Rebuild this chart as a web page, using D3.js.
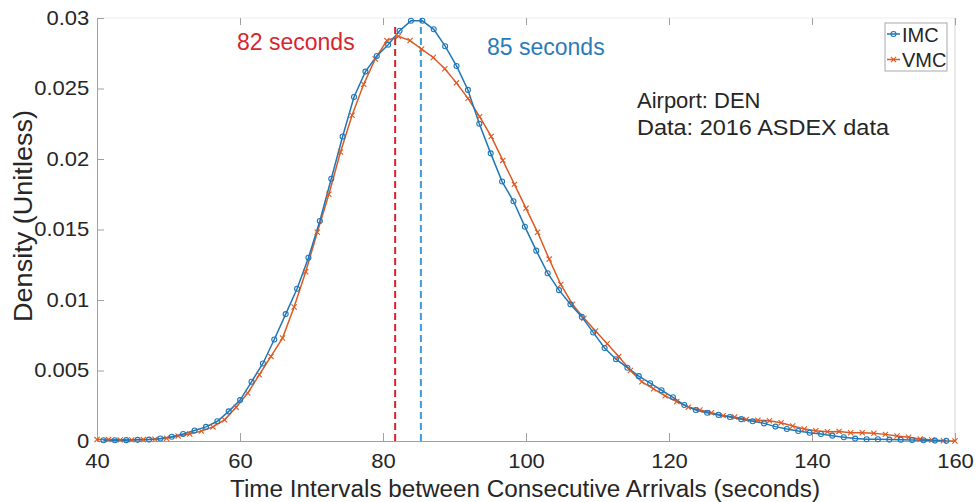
<!DOCTYPE html>
<html lang="en">
<head>
<meta charset="UTF-8">
<title>Arrival intervals density</title>
<script src="https://d3js.org/d3.v7.min.js"></script>
<style>
    html, body { margin: 0; padding: 0; background: #fff; }
    svg { display: block; }
    text { font-family: 'Liberation Sans', Arial, sans-serif; fill: #262626; }
    .axis path, .axis line { stroke: #a0a0a0; }
</style>
</head>
<body>
<svg id="canvas" width="977" height="502"></svg>
<script>
// kernel density, IMC (blue circles) - samples start at 40.9 s, every 1.593 s
let imcStart = 40.9
let imcStep = 1.593
let imcDensity = [
    0.00005, 0.00005, 0.00006, 0.00008, 0.0001, 0.00018, 0.0003, 0.0005, 0.00075, 0.001,
    0.0014, 0.0021, 0.0029, 0.0042, 0.0055, 0.0072, 0.0090, 0.0108, 0.0130, 0.0156,
    0.0186, 0.0216, 0.0244, 0.0262, 0.0273, 0.0281, 0.0291, 0.0298, 0.0298, 0.0292,
    0.0280, 0.0266, 0.0249, 0.0225, 0.0204, 0.0184, 0.0170, 0.0152, 0.0135, 0.0119,
    0.0107, 0.0097, 0.0088, 0.0077, 0.0066, 0.0058, 0.0052, 0.0046, 0.0041, 0.0036,
    0.0031, 0.00255, 0.0022, 0.0020, 0.00185, 0.0017, 0.00155, 0.0014, 0.00125, 0.00102,
    0.00085, 0.00071, 0.00059, 0.0005, 0.00038, 0.00027, 0.00017, 0.00012, 0.00012, 0.0001,
    0.00009, 0.00007, 0.00005, 0.00003, 0.00001
]

// kernel density, VMC (orange crosses) - samples from 40 to 160 s
let vmcStart = 40
let vmcStep = 120 / 74
let vmcDensity = [
    0.0001, 0.0001, 0.00008, 0.00008, 0.0001, 0.00012, 0.0002, 0.00035, 0.0005, 0.0007,
    0.001, 0.0015, 0.0024, 0.0034, 0.0047, 0.0060, 0.0073, 0.0095, 0.0120, 0.0148,
    0.0175, 0.0205, 0.0231, 0.0253, 0.0271, 0.0284, 0.0287, 0.0284, 0.0278, 0.0272,
    0.0264, 0.0254, 0.0243, 0.0230, 0.0216, 0.0199, 0.0182, 0.0165, 0.0148, 0.0129,
    0.0111, 0.0097, 0.0087, 0.0078, 0.0069, 0.0060, 0.0050, 0.0042, 0.0037, 0.0032,
    0.0028, 0.0024, 0.0022, 0.0020, 0.0018, 0.0017, 0.00152, 0.00148, 0.00144, 0.0013,
    0.00106, 0.00085, 0.00073, 0.00066, 0.00068, 0.00059, 0.00059, 0.00055, 0.00047, 0.00035,
    0.00026, 0.00014, 0.00007, 0.00002, 0.0
]

let xTicks = [40, 60, 80, 100, 120, 140, 160]
let yTicks = [0, 0.005, 0.01, 0.015, 0.02, 0.025, 0.03]
let yTickLabels = ['0', '0.005', '0.01', '0.015', '0.02', '0.025', '0.03']

let vmcMode = 81.7
let imcMode = 85.3

let blue = '#1f77b8'
let orange = '#dc5a24'

let canvas = d3.select('#canvas')

let xScale = d3.scaleLinear().domain([40, 160]).range([97, 955])
let yScale = d3.scaleLinear().domain([0, 0.03]).range([441, 18])

let imcData = imcDensity.map((d, i) => ({ t: imcStart + i * imcStep, v: d }))
let vmcData = vmcDensity.map((d, i) => ({ t: vmcStart + i * vmcStep, v: d }))

// box top + right
canvas.append('line')
    .attr('x1', xScale(40)).attr('x2', xScale(160))
    .attr('y1', yScale(0.03)).attr('y2', yScale(0.03))
    .attr('stroke', '#ececec')
canvas.append('line')
    .attr('x1', xScale(160)).attr('x2', xScale(160))
    .attr('y1', yScale(0.03)).attr('y2', yScale(0))
    .attr('stroke', '#d4d4d4')

let xAxis = canvas.append('g')
    .attr('class', 'axis')
    .attr('transform', 'translate(0,' + yScale(0) + ')')
    .call(d3.axisBottom(xScale).tickValues(xTicks).tickSizeInner(-8).tickSizeOuter(0).tickPadding(13))
let yAxis = canvas.append('g')
    .attr('class', 'axis')
    .attr('transform', 'translate(' + xScale(40) + ',0)')
    .call(d3.axisLeft(yScale).tickValues(yTicks).tickSizeInner(-7).tickSizeOuter(0).tickPadding(7)
        .tickFormat((d, i) => yTickLabels[i]))
canvas.append('g')
    .attr('class', 'axis')
    .attr('transform', 'translate(0,' + yScale(0.03) + ')')
    .call(d3.axisTop(xScale).tickValues(xTicks).tickSizeInner(-7).tickSizeOuter(0).tickFormat(''))
    .select('.domain').remove()

canvas.selectAll('.axis text')
    .style('font-size', '20px')
    .attr('fill', '#262626')
    .attr('transform', 'scale(1.1,1)')
yAxis.select('.domain').attr('stroke', '#d0d0d0')

// mode lines
canvas.append('line')
    .attr('x1', xScale(vmcMode)).attr('x2', xScale(vmcMode))
    .attr('y1', yScale(0)).attr('y2', yScale(0.0294))
    .attr('stroke', '#d9232a').attr('stroke-width', 2).attr('stroke-dasharray', '7,4')
canvas.append('line')
    .attr('x1', xScale(imcMode)).attr('x2', xScale(imcMode))
    .attr('y1', yScale(0)).attr('y2', yScale(0.03))
    .attr('stroke', '#3f9bd6').attr('stroke-width', 2).attr('stroke-dasharray', '7,4')

let line = d3.line().x(d => xScale(d.t)).y(d => yScale(d.v))

canvas.append('path')
    .datum(vmcData)
    .attr('d', line)
    .attr('fill', 'none').attr('stroke', orange).attr('stroke-width', 1.5)
canvas.append('path')
    .datum(imcData)
    .attr('d', line)
    .attr('fill', 'none').attr('stroke', blue).attr('stroke-width', 1.5)

let drawCross = (g, x, y, color) => {
    g.append('path')
        .attr('d', 'M' + (x - 2.6) + ',' + (y - 2.6) + 'L' + (x + 2.6) + ',' + (y + 2.6) +
                   'M' + (x - 2.6) + ',' + (y + 2.6) + 'L' + (x + 2.6) + ',' + (y - 2.6))
        .attr('stroke', color).attr('stroke-width', 1.1).attr('fill', 'none')
}

let vmcMarks = canvas.append('g')
vmcData.forEach(d => drawCross(vmcMarks, xScale(d.t), yScale(d.v), orange))

canvas.append('g').selectAll('circle')
    .data(imcData)
    .enter()
    .append('circle')
    .attr('cx', d => xScale(d.t))
    .attr('cy', d => yScale(d.v))
    .attr('r', 2.5)
    .attr('fill', 'none').attr('stroke', blue).attr('stroke-width', 1.1)

// labels
canvas.append('text')
    .attr('x', 525).attr('y', 497)
    .attr('text-anchor', 'middle')
    .attr('textLength', 590).attr('lengthAdjust', 'spacingAndGlyphs')
    .style('font-size', '23px')
    .text('Time Intervals between Consecutive Arrivals (seconds)')
canvas.append('text')
    .attr('transform', 'translate(32,216) rotate(-90)')
    .attr('text-anchor', 'middle')
    .attr('textLength', 212).attr('lengthAdjust', 'spacingAndGlyphs')
    .style('font-size', '26px')
    .text('Density (Unitless)')

canvas.append('text')
    .attr('x', 237).attr('y', 50)
    .style('font-size', '23px').style('fill', '#d7262c')
    .text('82 seconds')
canvas.append('text')
    .attr('x', 487).attr('y', 55)
    .style('font-size', '23px').style('fill', '#2b7bb9')
    .text('85 seconds')
canvas.append('text')
    .attr('x', 637).attr('y', 108)
    .style('font-size', '22px')
    .text('Airport: DEN')
canvas.append('text')
    .attr('x', 637).attr('y', 135)
    .attr('textLength', 252).attr('lengthAdjust', 'spacingAndGlyphs')
    .style('font-size', '22px')
    .text('Data: 2016 ASDEX data')

// legend
let legend = canvas.append('g')
legend.append('rect')
    .attr('x', 885).attr('y', 23).attr('width', 62).attr('height', 48)
    .attr('fill', '#fff').attr('stroke', '#a8a8a8')
legend.append('line')
    .attr('x1', 887).attr('x2', 900).attr('y1', 34).attr('y2', 34)
    .attr('stroke', blue).attr('stroke-width', 1.5)
legend.append('circle')
    .attr('cx', 893.5).attr('cy', 34).attr('r', 2.5)
    .attr('fill', 'none').attr('stroke', blue).attr('stroke-width', 1.1)
legend.append('line')
    .attr('x1', 887).attr('x2', 900).attr('y1', 59.5).attr('y2', 59.5)
    .attr('stroke', orange).attr('stroke-width', 1.5)
drawCross(legend, 893.5, 59.5, orange)
legend.append('text').attr('x', 902).attr('y', 42).style('font-size', '20px').text('IMC')
legend.append('text').attr('x', 902).attr('y', 67).style('font-size', '20px').text('VMC')
</script>
</body>
</html>
